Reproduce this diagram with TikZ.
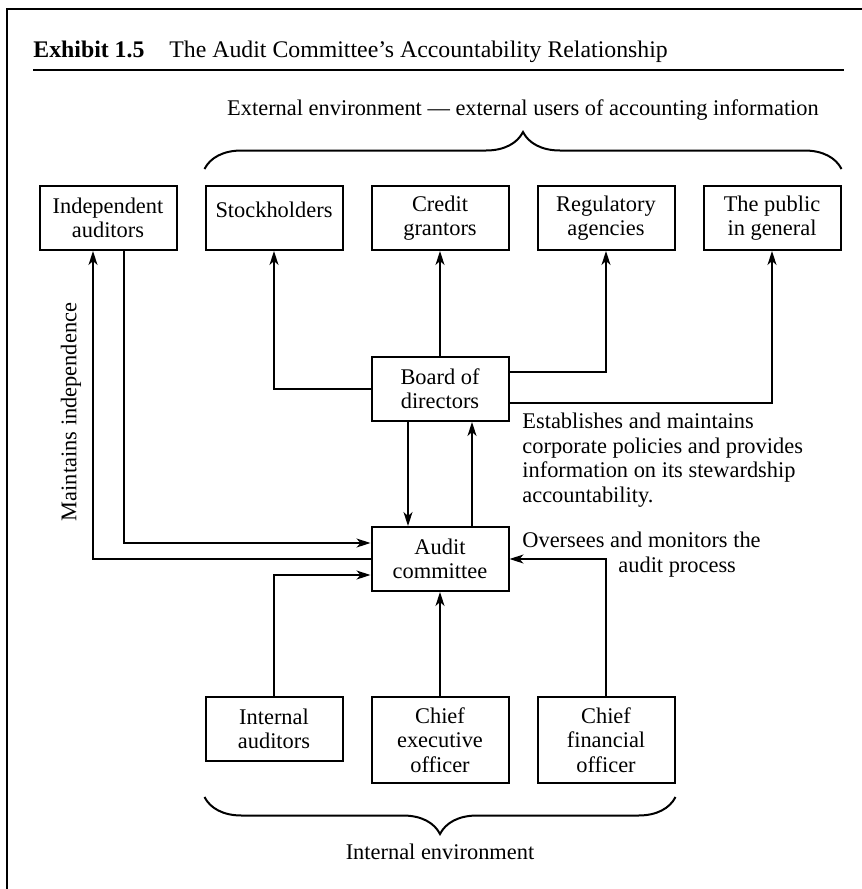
\documentclass[tikz,border=0pt]{standalone}
\usepackage{fontspec}
\setmainfont{Liberation Serif}
\usetikzlibrary{positioning,arrows.meta,decorations.pathreplacing}

\tikzset{
  box/.style={draw, line width=1pt, minimum width=68.5pt, minimum height=32pt,
    align=center, inner sep=1pt},
  tallbox/.style={box, minimum height=43pt},
  arr/.style={line width=0.65pt, -{Stealth[length=7pt,width=4.5pt,inset=2pt]}},
  brc/.style={line width=1pt, decorate, decoration={brace, amplitude=18.5pt}},
  note/.style={align=left, inner sep=0pt},
}

\begin{document}
\begin{tikzpicture}[x=0.5pt, y=-0.5pt, font=\fontsize{11.2}{12.2}\selectfont]
  \useasboundingbox (0,0) rectangle (862,889);

  % Frame and title
  \draw[line width=0.6pt] (7,889) -- (7,9) -- (862,9);
  \node[anchor=base west, inner sep=0pt, font=\fontsize{11.9}{13}\selectfont\bfseries] (exh) at (33,57) {Exhibit 1.5};
  \node[anchor=base west, inner sep=0pt, font=\fontsize{11.9}{13}\selectfont] (ttl) at (169,57) {The Audit Committee’s Accountability Relationship};
  \draw[line width=0.6pt] (33,70) -- (844,70);

  % Define nodes
  \node[box] (indep) at (108,218) {Independent\\auditors};
  \node[box, text depth=8.6pt, right=13.5pt of indep] (stock) {Stockholders};
  \node[box, right=13.5pt of stock] (credit) {Credit\\grantors};
  \node[box, right=13.5pt of credit] (reg) {Regulatory\\agencies};
  \node[box, right=13.5pt of reg] (public) {The public\\in general};
  \node[box, below=52.5pt of credit] (board) {Board of\\directors};
  \node[box, below=52pt of board] (audit) {Audit\\committee};
  \node[tallbox, below=52pt of audit] (ceo) {Chief\\executive\\officer};
  \node[tallbox, right=13.5pt of ceo] (cfo) {Chief\\financial\\officer};
  \node[box, left=13.5pt of ceo.north west, anchor=north east] (intaud) {Internal\\auditors};

  % Notes
  \node[note, anchor=north west] (estab) at (522,413) {Establishes and maintains\\corporate policies and provides\\information on its stewardship\\accountability.};
  \node[note, anchor=north west] (overs) at (522,532) {Oversees and monitors the\\\hspace*{48pt}audit process};
  \node[rotate=90, inner sep=0pt] (maint) at (71,412) {Maintains independence};

  % Connect the nodes
  \draw[arr] (board.west) -| (stock);
  \draw[arr] (board) -- (credit);
  \draw[arr] ([yshift=8.5pt]board.east) -| (reg);
  \draw[arr] ([yshift=-7pt]board.east) -| (public);
  \draw[arr] ([xshift=-16pt]board.south) -- ([xshift=-16pt]audit.north);
  \draw[arr] ([xshift=16pt]audit.north) -- ([xshift=16pt]board.south);
  \draw[arr] ([xshift=8pt]indep.south) |- ([yshift=8pt]audit.west);
  \draw[arr] (audit.west) -| ([xshift=-7.5pt]indep.south);
  \draw[arr] (intaud) |- ([yshift=-8pt]audit.west);
  \draw[arr] (ceo) -- (audit);
  \draw[arr] (cfo) |- (audit);

  % Braces
  \draw[brc] ([yshift=8pt]stock.north west) -- node[above=24pt, inner sep=0pt] (ext) {External environment — external users of accounting information} ([yshift=8pt]public.north east);
  \coordinate (ibl) at (intaud.west |- cfo.south);
  \draw[brc] ([yshift=-6.5pt]cfo.south east) -- node[below=23pt, inner sep=0pt] (intenv) {Internal environment} ([yshift=-6.5pt]ibl);
\end{tikzpicture}
\end{document}
